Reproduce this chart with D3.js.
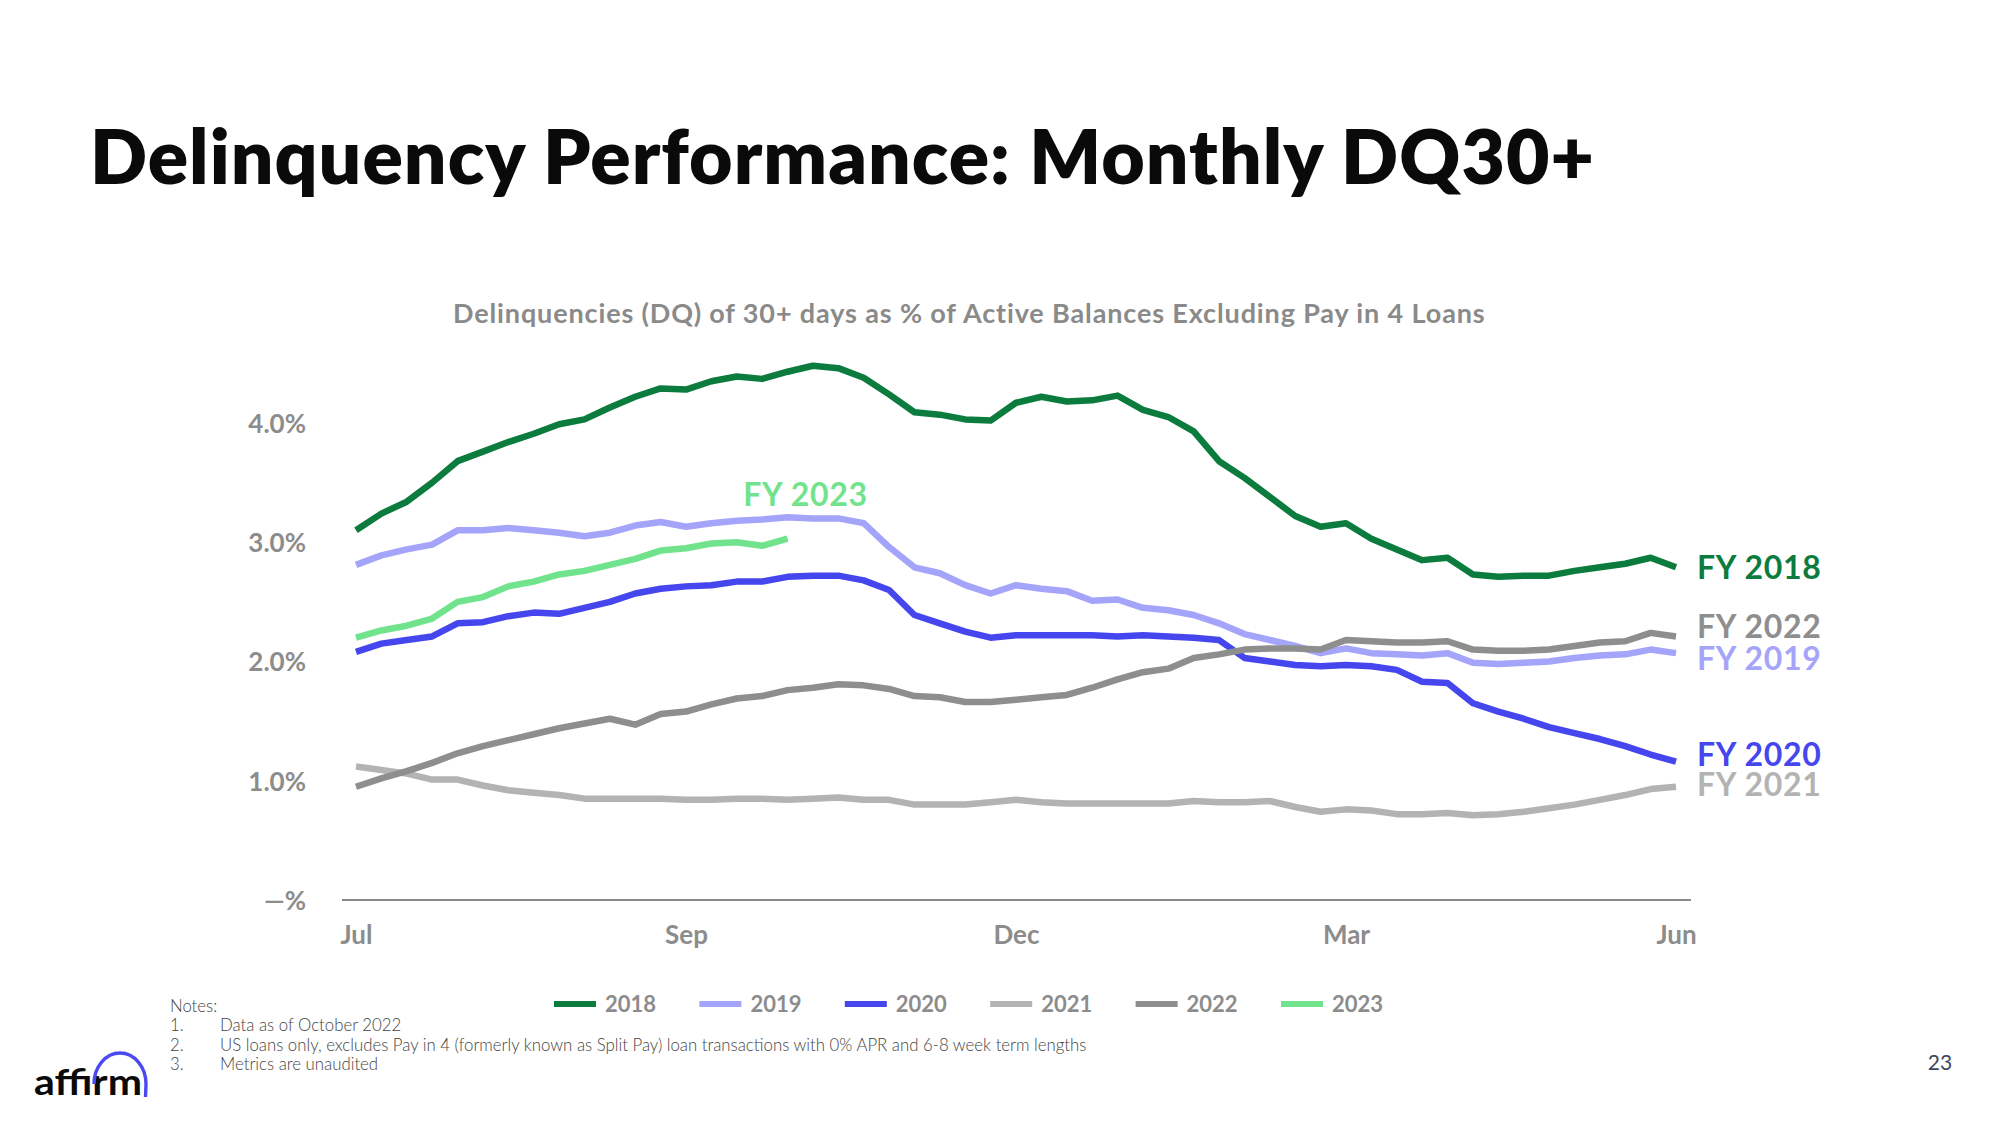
<!DOCTYPE html>
<html><head><meta charset="utf-8">
<script src="https://cdn.jsdelivr.net/npm/d3@7"></script>
<style>
body{margin:0;background:#fff}
svg{display:block}
text{font-family:Lato,"Open Sans",sans-serif}
</style>
</head><body>
<svg id="c" width="2000" height="1125"></svg>
<script>
// ---- data ----
const xTickIdx = [0, 13, 26, 39, 52];
const xTickLabels = ["Jul", "Sep", "Dec", "Mar", "Jun"];
const yTicks = [0, 1, 2, 3, 4];
const yTickLabels = ["\u2014%", "1.0%", "2.0%", "3.0%", "4.0%"];
const years = ["2018", "2019", "2020", "2021", "2022", "2023"];
const fy2018 = [3.10,3.24,3.34,3.50,3.68,3.76,3.84,3.91,3.99,4.03,4.13,4.22,4.29,4.28,4.35,4.39,4.37,4.43,4.48,4.46,4.38,
  4.24,4.09,4.07,4.03,4.02,4.17,4.22,4.18,4.19,4.23,4.11,4.05,3.93,3.68,3.54,3.38,3.22,3.13,3.16,3.03,2.94,2.85,2.87,2.73,2.71,2.72,2.72,2.76,2.79,2.82,2.87,2.79];
const fy2019 = [2.81,2.89,2.94,2.98,3.10,3.10,3.12,3.10,3.08,3.05,3.08,3.14,3.17,3.13,3.16,3.18,3.19,3.21,3.20,3.20,3.16,
  2.96,2.79,2.74,2.64,2.57,2.64,2.61,2.59,2.51,2.52,2.45,2.43,2.39,2.32,2.23,2.18,2.13,2.07,2.11,2.07,2.06,2.05,2.07,1.99,1.98,1.99,2.00,2.03,2.05,2.06,2.10,2.07];
const fy2020 = [2.08,2.15,2.18,2.21,2.32,2.33,2.38,2.41,2.40,2.45,2.50,2.57,2.61,2.63,2.64,2.67,2.67,2.71,2.72,2.72,2.68,
  2.60,2.39,2.32,2.25,2.20,2.22,2.22,2.22,2.22,2.21,2.22,2.21,2.20,2.18,2.03,2.00,1.97,1.96,1.97,1.96,1.93,1.83,1.82,1.65,1.58,1.52,1.45,1.40,1.35,1.29,1.22,1.16];
const fy2021 = [1.12,1.09,1.06,1.01,1.01,0.96,0.92,0.90,0.88,0.85,0.85,0.85,0.85,0.84,0.84,0.85,0.85,0.84,0.85,0.86,0.84,0.84,0.80,0.80,0.80,0.82,
  0.84,0.82,0.81,0.81,0.81,0.81,0.81,0.83,0.82,0.82,0.83,0.78,0.74,0.76,0.75,0.72,0.72,0.73,0.71,0.72,0.74,0.77,0.80,0.84,0.88,0.93,0.95];
const fy2022 = [0.95,1.02,1.08,1.15,1.23,1.29,1.34,1.39,1.44,1.48,1.52,1.47,1.56,1.58,1.64,1.69,1.71,1.76,1.78,1.81,1.80,1.77,1.71,1.70,1.66,1.66,
  1.68,1.70,1.72,1.78,1.85,1.91,1.94,2.03,2.06,2.10,2.11,2.11,2.10,2.18,2.17,2.16,2.16,2.17,2.10,2.09,2.09,2.10,2.13,2.16,2.17,2.24,2.21];
const fy2023 = [2.20,2.26,2.30,2.36,2.50,2.54,2.63,2.67,2.73,2.76,2.81,2.86,2.93,2.95,2.99,3.00,2.97,3.03];

const titleText = "Delinquency Performance: Monthly DQ30+";
const subtitleText = "Delinquencies (DQ) of 30+ days as % of Active Balances Excluding Pay in 4 Loans";
const notes = ["Data as of October 2022",
  "US loans only, excludes Pay in 4 (formerly known as Split Pay) loan transactions with 0% APR and 6-8 week term lengths",
  "Metrics are unaudited"];

// ---- styling / layout ----
const seriesValues = [fy2018, fy2019, fy2020, fy2021, fy2022, fy2023];
const colors = ["#0b7c3e", "#a4a4fa", "#4646ee", "#b3b3b3", "#8e8e8e", "#72e38d"];
const endLabelNudge = [0, 5, -7, -2, -10, 0]; // px offsets to avoid overlaps
const GREY = "#8c8c8c";

// stretch a text's letter spacing so it spans a target width
function fit(sel, target) {
  const w = sel.node().getComputedTextLength();
  const n = sel.text().length;
  if (n > 1) sel.attr("letter-spacing", (target - w) / n);
  return sel;
}

const svg = d3.select("#c");
svg.append("rect").attr("width", 2000).attr("height", 1125).attr("fill", "#fff");

const x = d3.scaleLinear().domain([0, 52]).range([356, 1676]);
const y = d3.scaleLinear().domain([0, 4]).range([900, 423]);

// title
fit(svg.append("text").attr("x", 90).attr("y", 184)
  .attr("font-size", 75).attr("font-weight", 800).attr("fill", "#0a0a0a")
  .text(titleText), 1505);

// subtitle
fit(svg.append("text").attr("x", 453).attr("y", 323)
  .attr("font-size", 27).attr("font-weight", 700).attr("fill", "#8a8a8a")
  .text(subtitleText), 1033);

// baseline axis line
svg.append("line").attr("x1", 342).attr("x2", 1691).attr("y1", y(0)).attr("y2", y(0))
  .attr("stroke", "#8a8a8a").attr("stroke-width", 2);

// y axis
const yAxis = svg.append("g").attr("transform", "translate(306,0)")
  .call(d3.axisLeft(y).tickValues(yTicks).tickSize(0).tickPadding(0)
    .tickFormat((d, i) => yTickLabels[i]));
yAxis.select(".domain").remove();
yAxis.selectAll("text").attr("font-family", "Lato, sans-serif").attr("font-size", 26)
  .attr("font-weight", 700).attr("fill", GREY).attr("dy", "0.36em");

// x axis
const xAxis = svg.append("g").attr("transform", `translate(0,${y(0)})`)
  .call(d3.axisBottom(x).tickValues(xTickIdx).tickSize(0).tickPadding(0)
    .tickFormat((d, i) => xTickLabels[i]));
xAxis.select(".domain").remove();
xAxis.selectAll("text").attr("font-family", "Lato, sans-serif").attr("font-size", 26)
  .attr("font-weight", 700).attr("fill", GREY).attr("dy", "0").attr("y", 44);

// lines
const line = d3.line().x((d, i) => x(i)).y(d => y(d));
seriesValues.forEach((vals, k) => {
  svg.append("path").datum(vals).attr("d", line)
    .attr("fill", "none").attr("stroke", colors[k]).attr("stroke-width", 6.5)
    .attr("stroke-linejoin", "round");
});

// end labels (FY 2018 - FY 2022)
[0, 1, 2, 3, 4].forEach(k => {
  const vals = seriesValues[k];
  svg.append("text").attr("x", 1697).attr("y", y(vals[vals.length - 1]) + endLabelNudge[k])
    .attr("dy", "0.36em").attr("font-size", 32).attr("font-weight", 700)
    .attr("letter-spacing", 0.7)
    .attr("fill", colors[k]).text("FY " + years[k]);
});
// FY 2023 label above the end of its line
{
  const vals = fy2023;
  svg.append("text").attr("x", x(vals.length - 1) + 18).attr("y", y(vals[vals.length - 1]) - 44)
    .attr("dy", "0.36em").attr("text-anchor", "middle").attr("font-size", 32).attr("font-weight", 700)
    .attr("letter-spacing", 0.7)
    .attr("fill", colors[5]).text("FY " + years[5]);
}

// legend
const lg = svg.append("g");
years.forEach((yr, k) => {
  const gx = 554 + k * 145.4;
  lg.append("rect").attr("x", gx).attr("y", 1001).attr("width", 42).attr("height", 6).attr("fill", colors[k]);
  lg.append("text").attr("x", gx + 51).attr("y", 1004).attr("dy", "0.36em")
    .attr("font-size", 22).attr("font-weight", 700).attr("fill", GREY).text(yr);
});

// notes
const NOTE_FS = 16.8;
svg.append("text").attr("x", 170).attr("y", 1006).attr("dy", "0.36em")
  .attr("font-size", NOTE_FS).attr("font-weight", 300).attr("fill", "#444").text("Notes:");
notes.forEach((t, i) => {
  const ny = 1025 + i * 19.5;
  svg.append("text").attr("x", 170).attr("y", ny).attr("dy", "0.36em")
    .attr("font-size", NOTE_FS).attr("font-weight", 300).attr("fill", "#444").text((i + 1) + ".");
  svg.append("text").attr("x", 220).attr("y", ny).attr("dy", "0.36em")
    .attr("font-size", NOTE_FS).attr("font-weight", 300).attr("fill", "#444").text(t);
});

// affirm logo
svg.append("text").attr("x", 34).attr("y", 1095)
  .attr("font-size", 36).attr("font-weight", 700).attr("fill", "#0a0a0a")
  .attr("textLength", 108).attr("lengthAdjust", "spacingAndGlyphs").text("affirm");
svg.append("path").attr("d", "M 94 1084 A 26 31 0 0 1 146 1084 L 145.5 1097")
  .attr("fill", "none").attr("stroke", "#4a4af4").attr("stroke-width", 3.4);

// page number
svg.append("text").attr("x", 1940).attr("y", 1062).attr("dy", "0.36em").attr("text-anchor", "middle")
  .attr("font-family", "'Liberation Sans', Arial, sans-serif")
  .attr("font-size", 21).attr("fill", "#3b4660").text("23");
</script>
</body></html>
